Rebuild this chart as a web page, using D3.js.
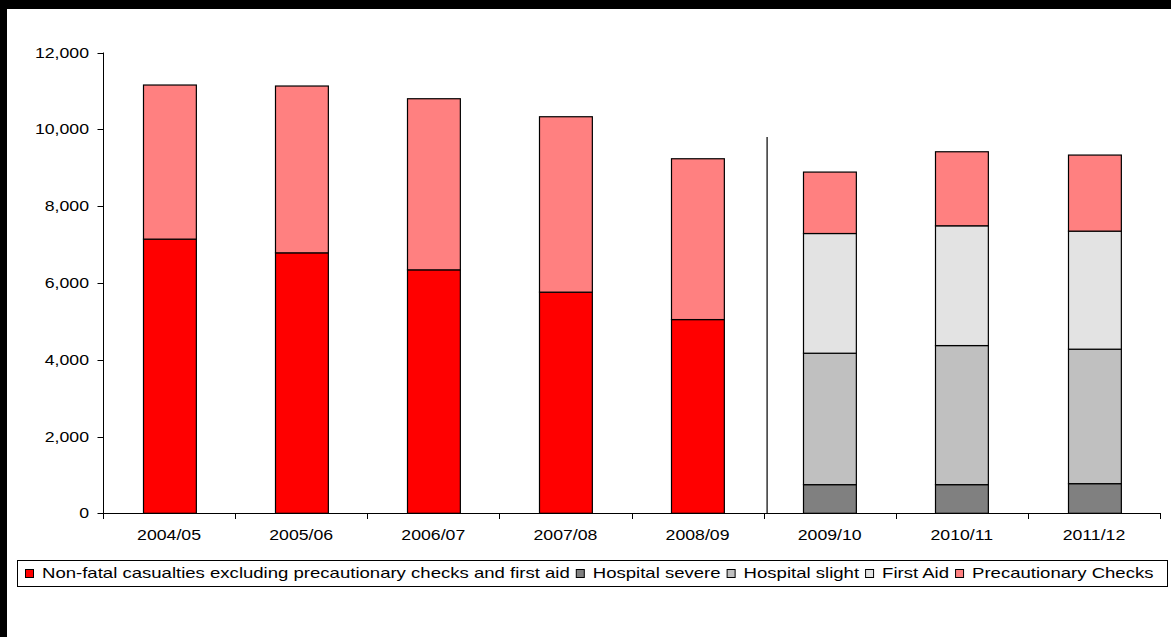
<!DOCTYPE html>
<html><head><meta charset="utf-8">
<script src="https://cdn.jsdelivr.net/npm/d3@7"></script>
<style>
html,body{margin:0;padding:0;background:#fff;}
svg{display:block;}
text{font-family:"Liberation Sans",Arial,sans-serif;fill:#000;}
</style></head>
<body><svg id="c" width="1171" height="637"></svg>
<script>
const categories = ["2004/05","2005/06","2006/07","2007/08","2008/09","2009/10","2010/11","2011/12"];
const nonFatal      = [7140, 6783, 6340, 5759, 5045, 0, 0, 0];
const hospSevere    = [0, 0, 0, 0, 0, 746, 746, 772];
const hospSlight    = [0, 0, 0, 0, 0, 3423, 3622, 3502];
const firstAid      = [0, 0, 0, 0, 0, 3117, 3119, 3074];
const precautionary = [4013, 4344, 4456, 4568, 4188, 1600, 1928, 1981];
const seriesNames = ["Non-fatal casualties excluding precautionary checks and first aid","Hospital severe","Hospital slight","First Aid","Precautionary Checks"];
const seriesColors = ["#FF0000","#808080","#C0C0C0","#E3E3E3","#FF8080"];
const yTicks = [0,2000,4000,6000,8000,10000,12000];

const svg = d3.select("#c");
const SX = 1.22, FS = 14.5, LSX = 1.28;
// frame
svg.append("rect").attr("x",0).attr("y",0).attr("width",1171).attr("height",9).attr("fill","#000");
svg.append("rect").attr("x",0).attr("y",0).attr("width",7).attr("height",637).attr("fill","#000");

const x = d3.scaleBand().domain(categories).range([103,1160]).padding(0);
const y = d3.scaleLinear().domain([0,12000]).range([513.3,52.5]);

const rows = categories.map((c,i)=>({cat:c, s0:nonFatal[i], s1:hospSevere[i], s2:hospSlight[i], s3:firstAid[i], s4:precautionary[i]}));
const stack = d3.stack().keys(["s0","s1","s2","s3","s4"])(rows);
const bw = x.bandwidth()*0.4;

stack.forEach((layer,k)=>{
  svg.append("g").selectAll("rect").data(layer.filter(d=>d[1]-d[0]>0)).join("rect")
    .attr("x",d=>Math.round(x(d.data.cat)+(x.bandwidth()-bw)/2)+0.5)
    .attr("y",d=>y(d[1]))
    .attr("width",bw)
    .attr("height",d=>y(d[0])-y(d[1]))
    .attr("fill",seriesColors[k]).attr("stroke","#000").attr("stroke-width",1.2);
});

// separator
svg.append("line").attr("x1",x("2009/10")+3.5).attr("x2",x("2009/10")+3.5)
  .attr("y1",y(9800)).attr("y2",y(0)).attr("stroke","#404040").attr("stroke-width",1.6);

// y axis
const ya = svg.append("g");
ya.append("line").attr("x1",103.5).attr("x2",103.5).attr("y1",y(12000)).attr("y2",y(0)).attr("stroke","#000");
yTicks.forEach(t=>{
  ya.append("line").attr("x1",97.5).attr("x2",103.5).attr("y1",Math.round(y(t))+0.5).attr("y2",Math.round(y(t))+0.5).attr("stroke","#000");
  ya.append("text").attr("transform",`translate(89,${y(t)+5}) scale(${SX},1)`)
    .attr("text-anchor","end").attr("font-size",FS).text(d3.format(",")(t));
});
// x axis
const xa = svg.append("g");
xa.append("line").attr("x1",103).attr("x2",1160).attr("y1",513.5).attr("y2",513.5).attr("stroke","#000");
categories.concat([null]).forEach((c,i)=>{
  const xx = c===null ? 1160 : x(c);
  xa.append("line").attr("x1",Math.round(xx)+0.5).attr("x2",Math.round(xx)+0.5).attr("y1",513).attr("y2",519).attr("stroke","#000");
});
categories.forEach(c=>{
  xa.append("text").attr("transform",`translate(${x(c)+x.bandwidth()/2},540) scale(${SX},1)`)
    .attr("text-anchor","middle").attr("font-size",FS).text(c);
});

// legend
const lg = svg.append("g");
lg.append("rect").attr("x",17.5).attr("y",560.5).attr("width",1150).attr("height",26).attr("fill","#fff").attr("stroke","#000");
let cx = 25;
seriesNames.forEach((n,k)=>{
  lg.append("rect").attr("x",cx+0.5).attr("y",569.5).attr("width",8).attr("height",8).attr("fill",seriesColors[k]).attr("stroke","#000");
  const t = lg.append("text").attr("transform",`translate(${cx+17},578) scale(${LSX},1)`).attr("font-size",FS).text(n);
  const w = t.node().getComputedTextLength()*LSX;
  cx = cx + 17 + w + 6;
});
</script></body></html>
